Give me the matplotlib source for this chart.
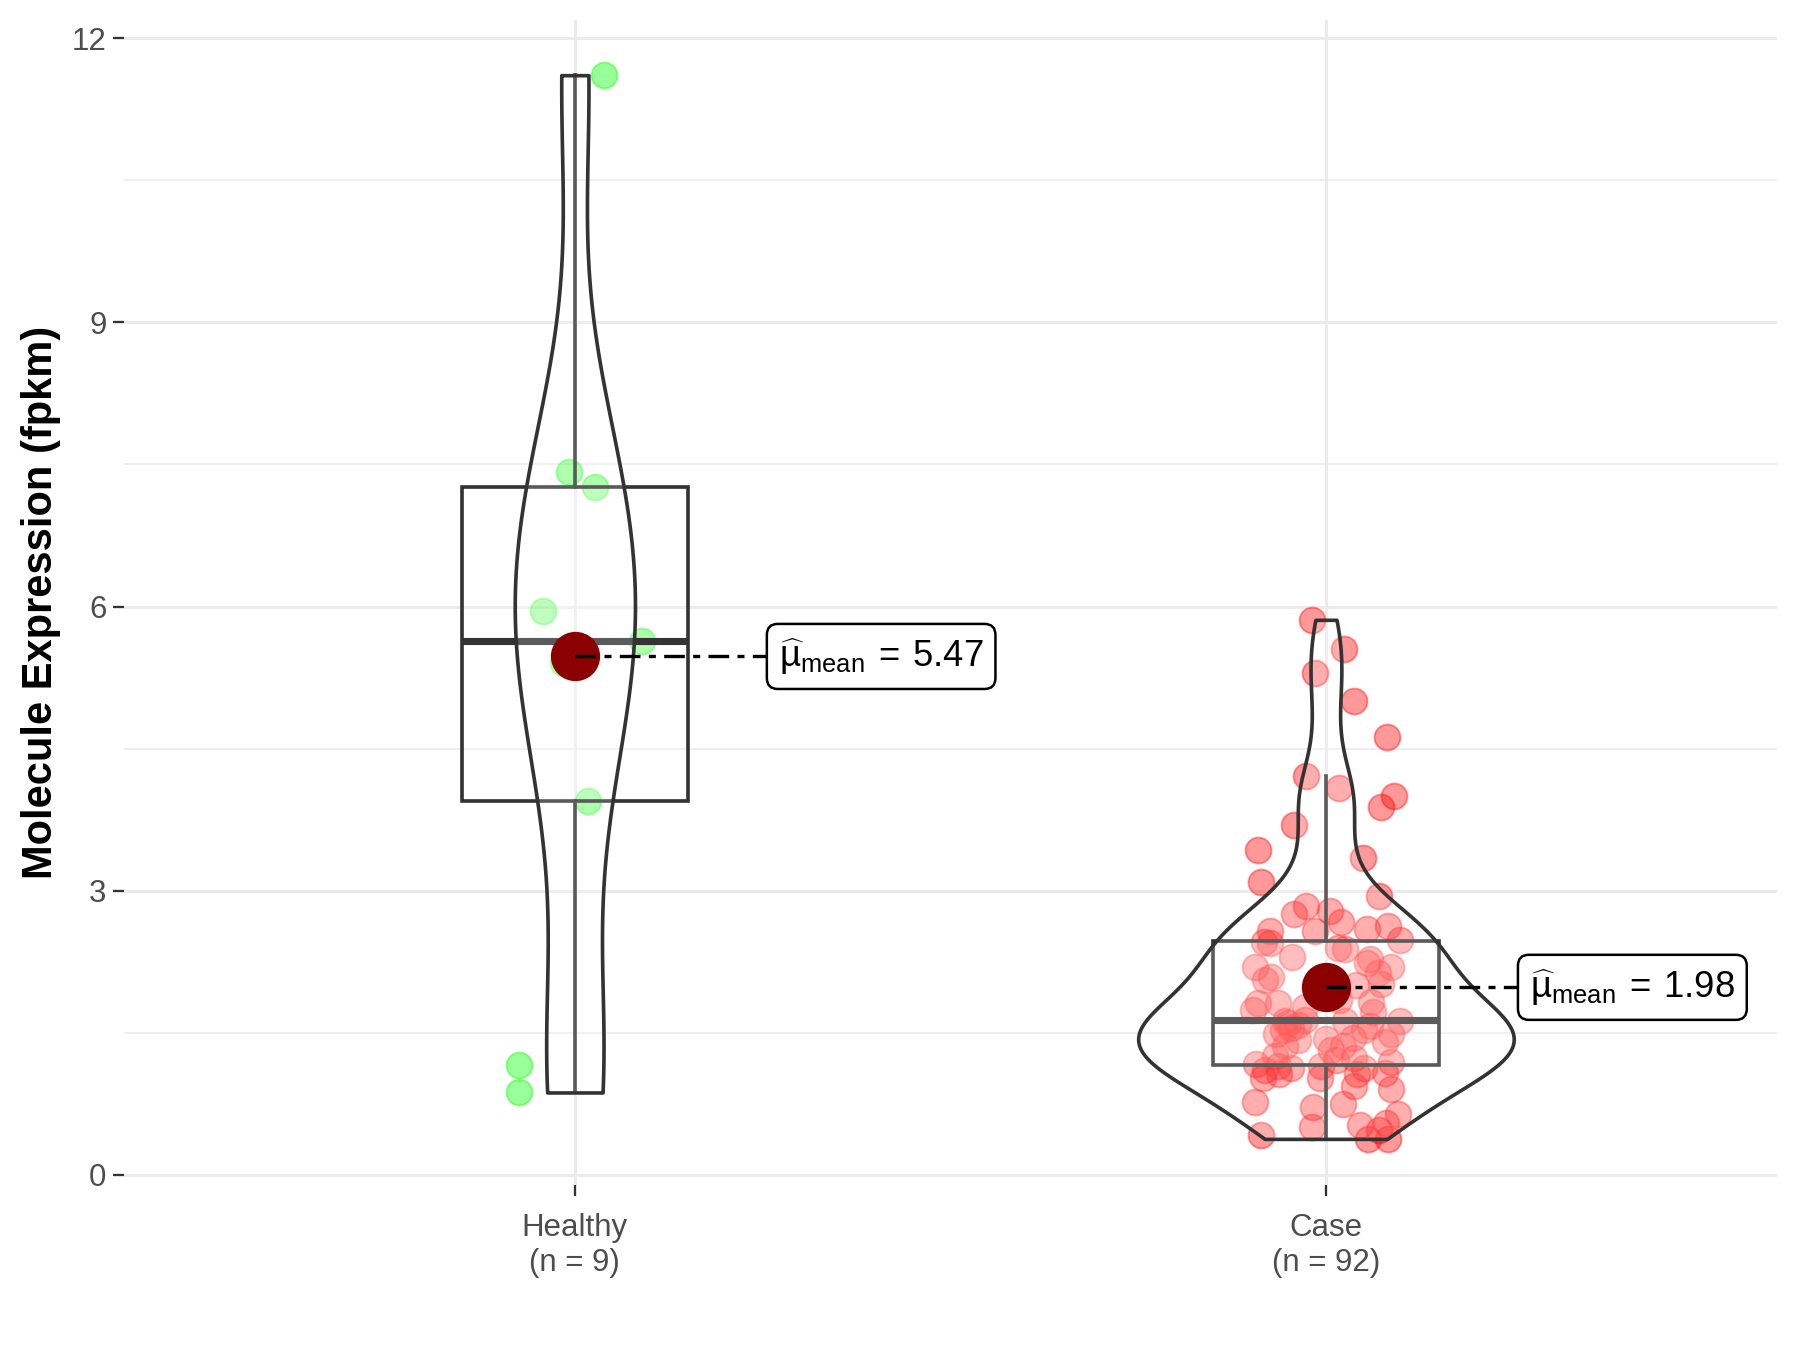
import numpy as np
import matplotlib
matplotlib.use("Agg")
import matplotlib.pyplot as plt
from matplotlib.ticker import MultipleLocator
from matplotlib.patches import Rectangle

plt.rcParams['font.family'] = ['Liberation Sans', 'DejaVu Sans']
plt.rcParams['mathtext.fontset'] = 'custom'
plt.rcParams['mathtext.rm'] = 'Liberation Sans'
plt.rcParams['mathtext.it'] = 'Liberation Sans:italic'
plt.rcParams['mathtext.bf'] = 'Liberation Sans:bold'

# ---------------- data ----------------
categories = ["Healthy", "Case"]
point_colors = ["#00FF00", "#FF0000"]

healthy_values = [11.61, 7.42, 7.26, 5.95, 5.64, 5.40, 3.95, 1.16, 0.87]
healthy_jitter = [0.039, -0.008, 0.027, -0.042, 0.090, -0.016, 0.017, -0.074, -0.074]

case_values = [
    5.86, 5.55, 5.30, 5.00, 4.62, 4.215, 4.08, 4.00, 3.88, 3.69, 3.43, 3.35, 3.09, 2.94,
    2.84, 2.75, 2.79, 2.67, 2.58, 2.60, 2.63, 2.58, 2.48, 2.46,
    2.45, 2.40, 2.38, 2.19, 2.28, 2.24, 2.19, 2.09, 2.06, 2.13,
    2.02, 1.81, 1.74, 1.81, 1.77, 1.85, 1.83, 1.72, 1.62, 1.62,
    1.49, 1.53, 1.55, 1.58, 1.45, 1.53, 1.57, 1.40, 1.43, 1.32,
    1.36, 1.17, 1.11, 1.15, 1.13, 1.15, 1.21, 1.13, 1.19, 1.08,
    1.02, 1.06, 1.02, 1.06, 0.94,
    0.91, 0.77, 0.72, 0.75, 0.64, 0.51, 0.53, 0.55, 0.42, 0.38,
    0.38, 0.47, 1.64, 1.36, 1.42, 1.49, 1.23, 1.26,
    1.60, 1.62, 2.30, 2.00, 2.00,
]
case_jitter = [
    -0.018, 0.024, -0.015, 0.037, 0.081, -0.026, 0.017, 0.091, 0.073, -0.042, -0.091, 0.050, -0.087, 0.071,
    -0.027, -0.042, 0.006, 0.020, -0.015, 0.054, 0.083, -0.075, 0.098, -0.083,
    -0.075, 0.016, 0.025, -0.095, 0.058, 0.055, 0.087, -0.073, -0.081, 0.069,
    0.073, -0.090, -0.097, -0.064, -0.028, 0.018, 0.060, 0.062, 0.098, -0.055,
    -0.066, -0.057, -0.046, -0.037, 0.036, 0.051, 0.058, 0.078, 0.000, 0.007,
    -0.055, -0.093, -0.081, -0.064, -0.046, -0.006, 0.014, 0.051, 0.087, 0.078,
    -0.084, -0.062, -0.008, 0.042, 0.038,
    0.087, -0.095, -0.017, 0.023, 0.096, -0.019, 0.045, 0.080, -0.086, 0.056,
    0.082, 0.071, -0.028, 0.023, -0.037, 0.087, 0.038, -0.068,
    -0.050, 0.025, -0.045, 0.040, -0.010,
]

groups = [np.array(healthy_values), np.array(case_values)]
jitters = [np.array(healthy_jitter), np.array(case_jitter)]

y_label = "Molecule Expression (fpkm)"
y_ticks = [0, 3, 6, 9, 12]

# ---------------- helpers ----------------
def bw_nrd0(x):
    sd = np.std(x, ddof=1)
    iqr = np.percentile(x, 75) - np.percentile(x, 25)
    lo = min(sd, iqr / 1.34)
    return 0.9 * lo * len(x) ** (-0.2)

def kde(x, grid):
    bw = bw_nrd0(x)
    z = (grid[:, None] - x[None, :]) / bw
    return np.exp(-0.5 * z ** 2).sum(axis=1) / (len(x) * bw * np.sqrt(2 * np.pi))

# ---------------- figure ----------------
fig = plt.figure(figsize=(12, 9), dpi=150)
ax = fig.add_axes([0.069, 0.122, 0.987 - 0.069, 0.985 - 0.122])

line_col = "#333333"
positions = [1, 2]
lw = 1.75

grids, dens = [], []
for g in groups:
    gr = np.linspace(g.min(), g.max(), 512)
    grids.append(gr)
    dens.append(kde(g, gr))
dmax = max(d.max() for d in dens)

for i, (pos, g, jit) in enumerate(zip(positions, groups, jitters)):
    # points
    ax.scatter(pos + jit, g, s=155, color=point_colors[i], alpha=0.4,
               linewidths=0.9, edgecolors=point_colors[i], zorder=2)
    # boxplot
    q1, med, q3 = np.percentile(g, [25, 50, 75])
    iqr = q3 - q1
    upper = g[g <= q3 + 1.5 * iqr].max()
    lower = g[g >= q1 - 1.5 * iqr].min()
    bw = 0.15
    ax.add_patch(Rectangle((pos - bw, q1), 2 * bw, q3 - q1, facecolor=(1, 1, 1, 0.2),
                           edgecolor=line_col, lw=lw, zorder=3))
    ax.plot([pos - bw, pos + bw], [med, med], color=line_col, lw=3.4,
            solid_capstyle='butt', zorder=3)
    ax.plot([pos, pos], [q3, upper], color=line_col, lw=lw, zorder=3)
    ax.plot([pos, pos], [lower, q1], color=line_col, lw=lw, zorder=3)
    # violin
    hw = dens[i] / dmax * 0.25
    ax.fill_betweenx(grids[i], pos - hw, pos + hw, facecolor=(1, 1, 1, 0.2),
                     edgecolor=line_col, lw=lw, zorder=4)
    # mean
    m = g.mean()
    ax.scatter([pos], [m], s=560, color="#8B0000", zorder=5, linewidths=0)
    lx = pos + 0.255
    ax.plot([pos, lx], [m, m], color="black", lw=1.6, dashes=(6.2, 2.5, 2.1, 2.5),
            zorder=6)
    ax.annotate(r"$\widehat{\mathrm{µ}}_{\mathrm{mean}}\:=\:%.2f$" % m, xy=(lx, m),
                xytext=(6, 0), textcoords="offset points", fontsize=17.5,
                ha="left", va="center", zorder=7,
                bbox=dict(boxstyle="round,pad=0.33,rounding_size=0.3", facecolor="white",
                          edgecolor="black", lw=1.2))

# axes styling
ax.set_xlim(0.4, 2.6)
ax.set_ylim(-0.11, 12.19)
ax.set_xticks(positions)
ax.set_xticklabels([f"{c}\n(n = {len(g)})" for c, g in zip(categories, groups)])
ax.set_yticks(y_ticks)
ax.yaxis.set_minor_locator(MultipleLocator(1.5))
ax.set_axisbelow(True)
ax.grid(True, which="major", color="#EBEBEB", lw=1.4)
ax.grid(True, which="minor", axis="y", color="#EBEBEB", lw=0.8)
ax.tick_params(axis="both", which="major", length=5.5, width=1.1, color=line_col,
               labelsize=15, labelcolor="#4D4D4D", pad=3)
ax.tick_params(axis="x", which="major", pad=8)
ax.tick_params(axis="both", which="minor", length=0)
for s in ax.spines.values():
    s.set_visible(False)
ax.set_ylabel(y_label, fontsize=20, fontweight="bold", labelpad=5)

fig.savefig("out.png", dpi=150, facecolor="white")
